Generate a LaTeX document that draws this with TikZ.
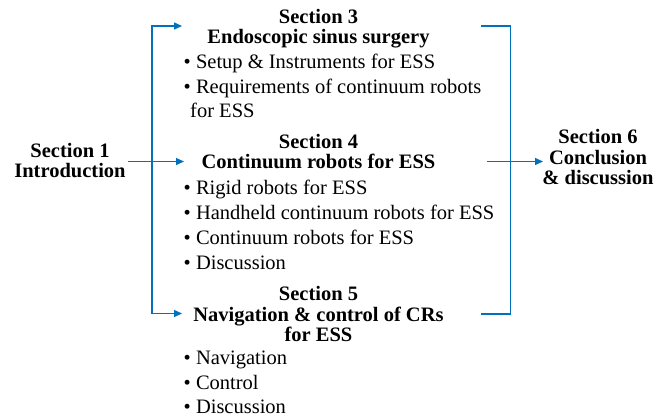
\documentclass[tikz,border=0pt]{standalone}
\usepackage{fontspec}
\setmainfont{Liberation Serif}
\usetikzlibrary{arrows.meta}
\definecolor{linkblue}{RGB}{0,114,189}
\begin{document}
\begin{tikzpicture}[x=1pt,y=-1pt,
  txt/.style={inner sep=0pt,anchor=base,font=\fontsize{20.5}{21}\selectfont},
  ttl/.style={txt,font=\fontsize{20.5}{21}\selectfont\bfseries},
  item/.style={txt,anchor=base west},
  conn/.style={draw=linkblue,line width=1.4pt},
  arr/.style={conn,-{Triangle[length=8pt,width=7pt]}}]
\useasboundingbox (0,0) rectangle (667,418);
% Section 1
\node[ttl] (s1a) at (70,157) {Section 1};
\node[ttl] (s1b) at (70,177) {Introduction};
% Section 3
\node[ttl] (s3a) at (318.5,23) {Section 3};
\node[ttl] (s3b) at (318.5,43) {Endoscopic sinus surgery};
\node[item] (s3i1) at (183.5,68) {\textbullet\ Setup \& Instruments for ESS};
\node[item] (s3i2) at (183.5,93) {\textbullet\ Requirements of continuum robots};
\node[item] (s3i3) at (190,117) {for ESS};
% Section 4
\node[ttl] (s4a) at (318.5,148) {Section 4};
\node[ttl] (s4b) at (318.5,168) {Continuum robots for ESS};
\node[item] (s4i1) at (183.5,194) {\textbullet\ Rigid robots for ESS};
\node[item] (s4i2) at (183.5,219) {\textbullet\ Handheld continuum robots for ESS};
\node[item] (s4i3) at (183.5,244) {\textbullet\ Continuum robots for ESS};
\node[item] (s4i4) at (183.5,269) {\textbullet\ Discussion};
% Section 5
\node[ttl] (s5a) at (318.5,300) {Section 5};
\node[ttl] (s5b) at (318.5,321) {Navigation \& control of CRs};
\node[ttl] (s5c) at (318.5,341) {for ESS};
\node[item] (s5i1) at (183.5,364) {\textbullet\ Navigation};
\node[item] (s5i2) at (183.5,389) {\textbullet\ Control};
\node[item] (s5i3) at (183.5,413) {\textbullet\ Discussion};
% Section 6
\node[ttl] (s6a) at (598,143) {Section 6};
\node[ttl] (s6b) at (598,164) {Conclusion};
\node[ttl] (s6c) at (598,184) {\& discussion};
% connector coordinates
\coordinate (lt) at (152,26);
\coordinate (lb) at (152,313.5);
\coordinate (s1out) at (128,161.5);
\coordinate (s3in) at (182,26);
\coordinate (s4in) at (184,161.5);
\coordinate (s5in) at (182,313.5);
\coordinate (s3out) at (481,26);
\coordinate (s5out) at (481,314);
\coordinate (rt) at (510.5,26);
\coordinate (rb) at (510.5,314);
\coordinate (s4out) at (487,161.5);
\coordinate (s6in) at (543,161.5);
% left bracket
\draw[arr] (lb) -- (lt) -- (s3in);
\draw[arr] (lt) -- (lb) -- (s5in);
\draw[arr] (s1out) -- (s4in);
% right bracket
\draw[conn] (s3out) -- (rt) -- (rb) -- (s5out);
\draw[arr] (s4out) -- (s6in);
\end{tikzpicture}
\end{document}
